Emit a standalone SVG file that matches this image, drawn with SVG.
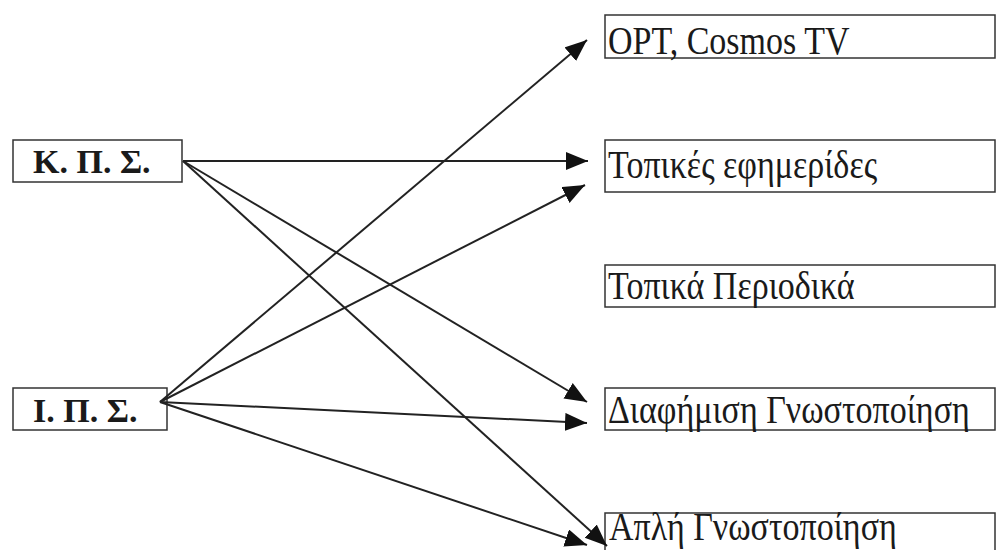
<svg xmlns="http://www.w3.org/2000/svg" width="997" height="550" viewBox="0 0 997 550">
<style>
.box{fill:#fff;stroke:#333;stroke-width:1.5}
.lt{font-family:'Liberation Serif','Times New Roman','DejaVu Serif',serif;font-size:34px;font-weight:bold;fill:#1a1a1a}
.rt{font-family:'Liberation Serif','Times New Roman','DejaVu Serif',serif;font-size:34px;fill:#1a1a1a}
.c{stroke:#222;stroke-width:2;fill:none;marker-end:url(#ah)}
</style>
<defs>
<marker id="ah" markerUnits="userSpaceOnUse" markerWidth="24" markerHeight="20" refX="22" refY="9" orient="auto">
<path d="M0,0 L22,9 L0,18 z" fill="#111"/>
</marker>
</defs>
<rect width="997" height="550" fill="#fff"/>
<g id="kps"><rect class="box" x="13" y="140" width="169" height="42"/><text class="lt" x="33" y="173">Κ. Π. Σ.</text></g>
<g id="ips"><rect class="box" x="13" y="388" width="154" height="42"/><text class="lt" x="33" y="422">Ι. Π. Σ.</text></g>
<g id="opt"><rect class="box" x="605" y="15" width="390" height="43"/><text class="rt" transform="translate(608,54) scale(1,1.2)">OPT, Cosmos TV</text></g>
<g id="efim"><rect class="box" x="605" y="140" width="390" height="52"/><text class="rt" transform="translate(608,178) scale(1,1.2)">Τοπικές εφημερίδες</text></g>
<g id="period"><rect class="box" x="605" y="265" width="390" height="42"/><text class="rt" transform="translate(608,299) scale(1,1.2)">Τοπικά Περιοδικά</text></g>
<g id="diaf"><rect class="box" x="605" y="388" width="390" height="42"/><text class="rt" transform="translate(608,423) scale(1,1.2)">Διαφήμιση Γνωστοποίηση</text></g>
<g id="apli"><rect class="box" x="605" y="513" width="390" height="45"/><text class="rt" transform="translate(609,540) scale(1,1.2)">Απλή Γνωστοποίηση</text></g>
<g id="connectors">
<line class="c" x1="183" y1="161" x2="588" y2="161"/>
<line class="c" x1="183" y1="161" x2="587" y2="402"/>
<line class="c" x1="183" y1="161" x2="607" y2="546"/>
<line class="c" x1="160" y1="402" x2="587" y2="40"/>
<line class="c" x1="160" y1="402" x2="585" y2="185"/>
<line class="c" x1="160" y1="402" x2="587" y2="423"/>
<line class="c" x1="160" y1="402" x2="587" y2="545"/>
</g>
</svg>
